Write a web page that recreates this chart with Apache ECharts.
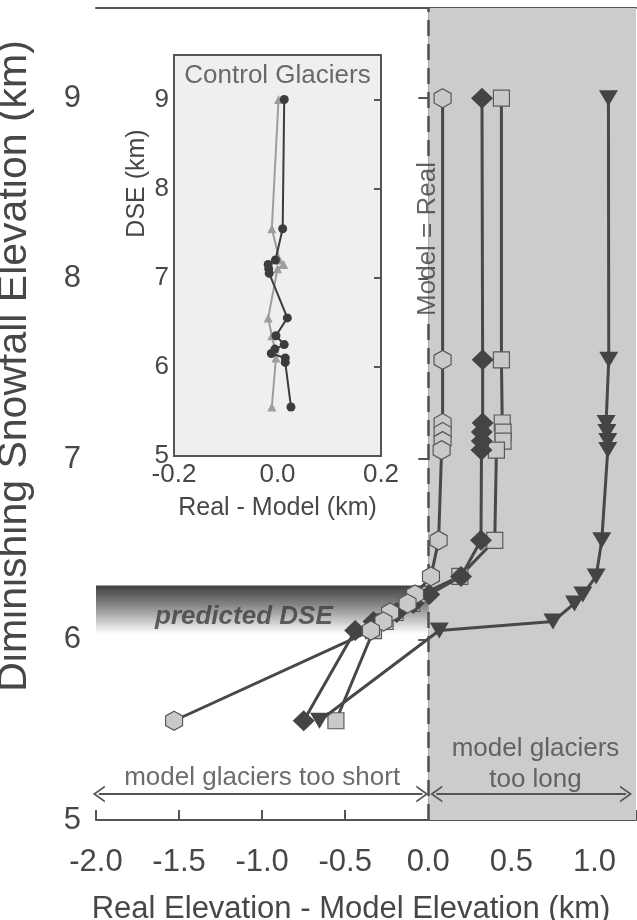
<!DOCTYPE html>
<html><head><meta charset="utf-8">
<script src="https://cdn.jsdelivr.net/npm/echarts@6/dist/echarts.min.js"></script>
<style>html,body{margin:0;padding:0;background:#fff}#c{width:637px;height:920px}</style>
</head><body><div id="c"></div>
<script>
// ---- data ----
const dseLevels = [9.0, 7.55, 7.2, 7.15, 7.1, 7.05, 6.55, 6.35, 6.25, 6.2, 6.15, 6.1, 6.05, 5.55];
const hexX = [0.086, 0.086, 0.086, 0.086, 0.086, 0.08, 0.062, 0.016, -0.08, -0.125, -0.23, -0.27, -0.345, -1.53];
const diamondX = [0.323, 0.327, 0.327, 0.322, 0.322, 0.32, 0.317, 0.197, 0.006, -0.09, -0.19, -0.33, -0.44, -0.75];
const squareX = [0.44, 0.44, 0.445, 0.45, 0.45, 0.41, 0.40, 0.19, -0.04, -0.1, -0.2, -0.26, -0.33, -0.556];
const triLevels = [9.0, 7.55, 7.2, 7.15, 7.1, 7.05, 6.55, 6.35, 6.25, 6.2, 6.1, 6.05, 5.55];
const triX = [1.084, 1.086, 1.07, 1.075, 1.08, 1.08, 1.044, 1.01, 0.93, 0.88, 0.75, 0.066, -0.655];

const ctrlCircY = [9.0, 7.55, 7.2, 7.15, 7.1, 7.05, 6.55, 6.35, 6.25, 6.2, 6.15, 6.1, 6.05, 5.55];
const ctrlCircX = [0.013, 0.01, -0.004, -0.018, -0.017, -0.016, 0.019, -0.003, 0.013, -0.005, -0.012, 0.015, 0.015, 0.026];
const ctrlTriY = [9.0, 7.55, 7.2, 7.15, 7.1, 6.55, 6.35, 6.2, 6.1, 5.55];
const ctrlTriX = [0.002, -0.011, 0.004, 0.012, 0.0, -0.018, -0.011, -0.005, -0.003, -0.011];

const mainXTicks = [-2.0, -1.5, -1.0, -0.5, 0.0, 0.5, 1.0];
const mainYTicks = [5, 6, 7, 8, 9];
const insetXTicks = [-0.2, 0.0, 0.2];
const insetYTicks = [5, 6, 7, 8, 9];

const predictedDSE = [6.03, 6.3];

// ---- chart ----
const pair = (xs, ys) => xs.map((x, i) => [x, ys[i]]);
const inList = (list, v) => list.some(t => Math.abs(t - v) < 1e-6);
const TXT = '#474747', AX = '#555555', LINE = '#48484a';
const FONT = '"Liberation Sans", Arial, sans-serif';
const HEX = 'path://M0,-10 L8.66,-5 L8.66,5 L0,10 L-8.66,5 L-8.66,-5 Z';
const CHEV = 'path://M0,12 L8.5,0 L17,12 L15,12 L8.5,3 L2,12 Z';

const chart = echarts.init(document.getElementById('c'));
const option = {
  animation: false,
  backgroundColor: '#ffffff',
  textStyle: { fontFamily: FONT, color: TXT },
  grid: [
    { left: 96, top: 8, right: 1, bottom: 100, outerBoundsMode: 'none' },
    { left: 174, top: 55, width: 207, height: 401, show: true, backgroundColor: '#efefef',
      borderColor: AX, borderWidth: 2, outerBoundsMode: 'none' }
  ],
  xAxis: [
    { gridIndex: 0, type: 'value', min: -2, max: 1.25, interval: 0.5,
      axisLine: { lineStyle: { color: AX, width: 2 } },
      axisTick: { inside: true, length: 10, lineStyle: { color: AX, width: 2 } },
      splitLine: { show: false },
      axisLabel: { fontSize: 31, color: TXT, margin: 27, fontFamily: FONT,
        formatter: v => inList(mainXTicks, v) ? v.toFixed(1) : '' },
      name: 'Real Elevation - Model Elevation (km)', nameLocation: 'middle', nameGap: 74,
      nameTextStyle: { fontSize: 31, color: TXT, fontFamily: FONT, padding: [0, 30, 0, 0] } },
    { gridIndex: 0, type: 'value', position: 'top', min: -2, max: 1.25, interval: 0.5,
      axisLine: { lineStyle: { color: AX, width: 2 } }, axisTick: { show: false },
      axisLabel: { show: false }, splitLine: { show: false } },
    { gridIndex: 1, type: 'value', min: -0.2, max: 0.2, interval: 0.2,
      axisLine: { show: false }, axisTick: { show: false }, splitLine: { show: false },
      axisLabel: { fontSize: 26, color: TXT, margin: 6, fontFamily: FONT,
        formatter: v => inList(insetXTicks, v) ? v.toFixed(1) : '' },
      name: 'Real - Model (km)', nameLocation: 'middle', nameGap: 40,
      nameTextStyle: { fontSize: 25, color: TXT, fontFamily: FONT } }
  ],
  yAxis: [
    { gridIndex: 0, type: 'value', min: 5, max: 9.5, interval: 1,
      axisLine: { lineStyle: { color: AX, width: 2 } },
      axisTick: { inside: true, length: 10, lineStyle: { color: AX, width: 2 } },
      splitLine: { show: false },
      axisLabel: { fontSize: 31, color: TXT, margin: 15, fontFamily: FONT,
        formatter: v => inList(mainYTicks, v) ? String(v) : '' },
      name: 'Diminishing Snowfall Elevation (km)', nameLocation: 'middle', nameGap: 61,
      nameTextStyle: { fontSize: 41, color: TXT, fontFamily: FONT, padding: [0, 0, 0, 96] } },
    { gridIndex: 0, type: 'value', position: 'right', min: 5, max: 9.5, interval: 1,
      axisLine: { lineStyle: { color: AX, width: 2 } },
      axisTick: { inside: true, length: 10, lineStyle: { color: AX, width: 2 } },
      axisLabel: { show: false }, splitLine: { show: false } },
    { gridIndex: 1, type: 'value', min: 5, max: 9.5, interval: 1,
      axisLine: { show: false }, axisTick: { show: false }, splitLine: { show: false },
      axisLabel: { fontSize: 26, color: TXT, margin: 5, fontFamily: FONT,
        formatter: v => inList(insetYTicks, v) ? String(v) : '' },
      name: 'DSE (km)', nameLocation: 'middle', nameGap: 24,
      nameTextStyle: { fontSize: 25, color: TXT, fontFamily: FONT, padding: [0, 0, 0, 144] } },
    { gridIndex: 1, type: 'value', position: 'right', min: 5, max: 9.5, interval: 1,
      axisLine: { show: false },
      axisTick: { show: true, inside: true, length: 7, lineStyle: { color: AX, width: 2 } },
      axisLabel: { show: false }, splitLine: { show: false } }
  ],
  series: [
    { name: 'background', type: 'line', xAxisIndex: 0, yAxisIndex: 0, data: [], z: 1, silent: true,
      markArea: { silent: true, data: [
        [{ xAxis: 0, itemStyle: { color: '#cbccce' } }, { xAxis: 1.25 }],
        [{ xAxis: -2, yAxis: predictedDSE[1], itemStyle: { color: new echarts.graphic.LinearGradient(0, 0, 0, 1, [
            { offset: 0, color: '#3e3e3e' }, { offset: 0.45, color: '#8f8f8f' }, { offset: 1, color: '#ffffff' }]) } },
         { xAxis: 0, yAxis: predictedDSE[0] }]
      ] },
      markLine: { silent: true, symbol: 'none', label: { show: false },
        lineStyle: { color: '#505050', width: 2.5, type: [16, 8] },
        data: [
          [{ coord: [0, 5] }, { coord: [0, 7.76] }],
          [{ coord: [0, 8.68] }, { coord: [0, 9.5] }]
        ] } },
    { name: 'squares', type: 'line', xAxisIndex: 0, yAxisIndex: 0, z: 3,
      data: pair(squareX, dseLevels), symbol: 'rect', symbolSize: 16,
      itemStyle: { color: '#c9c9cb', borderColor: '#5a5a5a', borderWidth: 1.2 },
      lineStyle: { color: LINE, width: 3 } },
    { name: 'triangles', type: 'line', xAxisIndex: 0, yAxisIndex: 0, z: 4,
      data: pair(triX, triLevels), symbol: 'triangle', symbolRotate: 180, symbolSize: [19, 16],
      itemStyle: { color: '#444446' }, lineStyle: { color: LINE, width: 3 } },
    { name: 'diamonds', type: 'line', xAxisIndex: 0, yAxisIndex: 0, z: 5,
      data: pair(diamondX, dseLevels), symbol: 'diamond', symbolSize: [22, 21],
      itemStyle: { color: '#444446' }, lineStyle: { color: LINE, width: 3 } },
    { name: 'hexagons', type: 'line', xAxisIndex: 0, yAxisIndex: 0, z: 6,
      data: pair(hexX, dseLevels), symbol: HEX, symbolSize: [17, 19],
      itemStyle: { color: '#c9c9cb', borderColor: '#555555', borderWidth: 1.2 },
      lineStyle: { color: LINE, width: 3 } },
    { name: 'notes', type: 'scatter', xAxisIndex: 0, yAxisIndex: 0, z: 8, silent: true,
      symbolSize: 1, itemStyle: { color: 'rgba(0,0,0,0)' },
      label: { show: true, position: 'inside', color: TXT, fontFamily: FONT, fontSize: 26 },
      data: [
        { value: [0, 8.22], label: { formatter: 'Model = Real', rotate: 90, color: '#3f3f3f' } },
        { value: [-1.11, 6.125], label: { formatter: 'predicted DSE', fontStyle: 'italic', fontWeight: 'bold', color: '#3d3d3d' } },
        { value: [-1.0, 5.233], label: { formatter: 'model glaciers too short' } },
        { value: [0.645, 5.307], label: { formatter: 'model glaciers\ntoo long', lineHeight: 31 } }
      ],
      markLine: { silent: true, symbol: [CHEV, CHEV], symbolSize: [17, 12], label: { show: false },
        lineStyle: { color: AX, width: 2, type: 'solid' },
        data: [
          [{ coord: [-1.983, 5.144] }, { coord: [-0.036, 5.144] }],
          [{ coord: [0.048, 5.144] }, { coord: [1.19, 5.144] }]
        ] } },
    { name: 'control-gray', type: 'line', xAxisIndex: 2, yAxisIndex: 2, z: 10,
      data: pair(ctrlTriX, ctrlTriY), symbol: 'triangle', symbolSize: 9,
      itemStyle: { color: '#9d9d9d' }, lineStyle: { color: '#9d9d9d', width: 2 } },
    { name: 'control-dark', type: 'line', xAxisIndex: 2, yAxisIndex: 2, z: 11,
      data: pair(ctrlCircX, ctrlCircY), symbol: 'circle', symbolSize: 9,
      itemStyle: { color: '#3c3c3c' }, lineStyle: { color: '#3c3c3c', width: 2 } },
    { name: 'inset-title', type: 'scatter', xAxisIndex: 2, yAxisIndex: 2, z: 12, silent: true,
      symbolSize: 1, itemStyle: { color: 'rgba(0,0,0,0)' },
      label: { show: true, position: 'inside', color: TXT, fontFamily: FONT, fontSize: 26, formatter: 'Control Glaciers' },
      data: [[0, 9.265]] }
  ]
};
chart.setOption(option);
</script></body></html>
